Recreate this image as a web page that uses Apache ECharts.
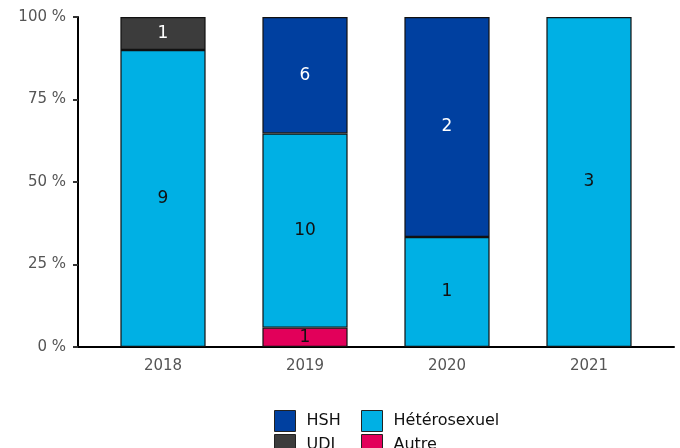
<!DOCTYPE html>
<html><head><meta charset="utf-8">
<script src="https://cdn.jsdelivr.net/npm/echarts@6/dist/echarts.min.js"></script>
<style>html,body{margin:0;padding:0;background:#fff}#c{width:680px;height:448px}</style>
</head><body><div id="c"></div>
<script>
const years = ['2018', '2019', '2020', '2021'];
const autre = [0, 1, 0, 0];
const hetero = [9, 10, 1, 3];
const hsh = [0, 6, 2, 0];
const udi = [1, 0, 0, 0];
const yTicks = [0, 25, 50, 75, 100];

const totals = years.map((_, i) => autre[i] + hetero[i] + hsh[i] + udi[i]);
const font = 'DejaVu Sans';

function mk(name, counts, color, labelColor) {
  return {
    name: name, type: 'bar', stack: 'total', barWidth: '60%',
    xAxisIndex: 0, yAxisIndex: 0,
    data: counts.map((c, i) => (c === 0 ? '-' : c / totals[i] * 100)),
    itemStyle: { color: color, borderColor: '#111', borderWidth: 1.2 },
    label: {
      show: true, position: 'inside', color: labelColor, fontSize: 17, fontFamily: font,
      formatter: p => String(counts[p.dataIndex])
    },
    emphasis: { disabled: true }
  };
}

const chart = echarts.init(document.getElementById('c'), null, { renderer: 'canvas' });
chart.setOption({
  animation: false,
  grid: [
    { left: 92, right: 20, top: 17, bottom: 101 },
    { left: 78, right: 6, top: 17, bottom: 101 }
  ],
  xAxis: [
    {
      gridIndex: 0, type: 'category', data: years, boundaryGap: true,
      axisLine: { show: false }, axisTick: { show: false },
      axisLabel: { color: '#555', fontSize: 15, fontFamily: font, margin: 12 }
    },
    {
      gridIndex: 1, type: 'value', min: 0, max: 1,
      splitLine: { show: false },
      axisLine: { show: true, lineStyle: { color: '#000', width: 2 } },
      axisTick: { show: false }, axisLabel: { show: false }
    }
  ],
  yAxis: [
    { gridIndex: 0, type: 'value', min: 0, max: 100, show: false },
    {
      gridIndex: 1, type: 'value', min: 0, max: 100, interval: 25,
      splitLine: { show: false },
      axisLine: { show: true, lineStyle: { color: '#000', width: 2 } },
      axisTick: { show: true, length: 5, lineStyle: { color: '#333', width: 2 } },
      axisLabel: { formatter: v => v + ' %', color: '#555', fontSize: 15, fontFamily: font, margin: 12 }
    }
  ],
  legend: [
    { data: ['HSH', 'UDI'], orient: 'vertical', left: 269, top: 405, height: 80, itemWidth: 21, itemHeight: 21, itemGap: 2,
      icon: 'rect', selectedMode: false,
      itemStyle: { borderColor: '#222', borderWidth: 1 },
      textStyle: { fontSize: 16, fontFamily: font, color: '#111', padding: [0, 0, 0, 6] } },
    { data: ['Hétérosexuel', 'Autre'], orient: 'vertical', left: 356, top: 405, height: 80, itemWidth: 21, itemHeight: 21, itemGap: 2,
      icon: 'rect', selectedMode: false,
      itemStyle: { borderColor: '#222', borderWidth: 1 },
      textStyle: { fontSize: 16, fontFamily: font, color: '#111', padding: [0, 0, 0, 6] } }
  ],
  series: [
    mk('Autre', autre, '#e2005a', '#111'),
    mk('Hétérosexuel', hetero, '#00b0e4', '#111'),
    mk('HSH', hsh, '#0040a0', '#fff'),
    mk('UDI', udi, '#3c3c3c', '#fff')
  ]
});
</script></body></html>
